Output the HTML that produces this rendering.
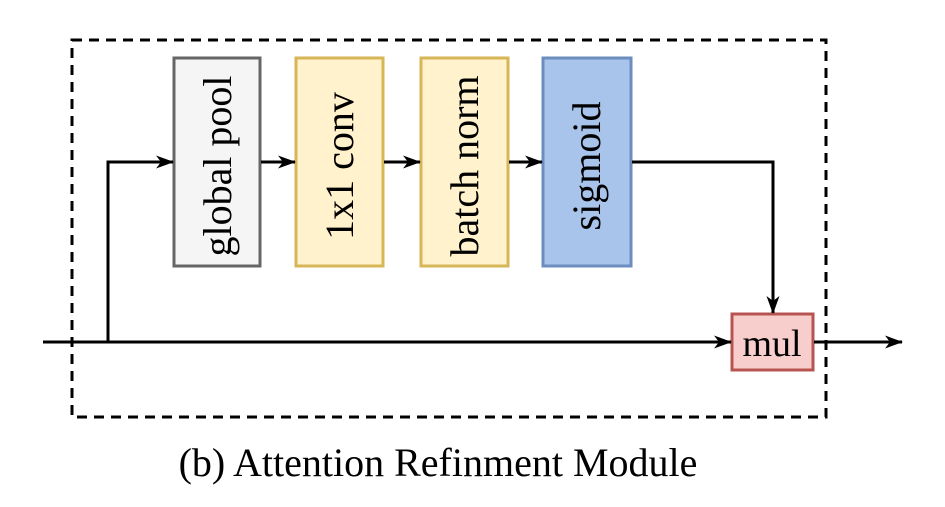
<!DOCTYPE html>
<html><head><meta charset="utf-8"><style>html,body{margin:0;padding:0;background:#fff}</style></head>
<body>
<svg width="945" height="502" viewBox="0 0 945 502" xmlns="http://www.w3.org/2000/svg" style="font-family:'Liberation Serif',serif">
<defs>
<marker id="a" markerWidth="18" markerHeight="14" refX="17" refY="7" orient="auto" markerUnits="userSpaceOnUse" overflow="visible">
<path d="M0,0.5 L18,7 L0,13.5 L5,7 Z" fill="#000"/>
</marker>
</defs>
<rect x="72" y="40" width="754" height="377" fill="none" stroke="#000" stroke-width="3" stroke-dasharray="10,7"/>
<rect x="174" y="58" width="86" height="208" fill="#f5f5f5" stroke="#666" stroke-width="3"/>
<rect x="296" y="58" width="87" height="208" fill="#fff2cc" stroke="#d6b656" stroke-width="3"/>
<rect x="421" y="58" width="87" height="208" fill="#fff2cc" stroke="#d6b656" stroke-width="3"/>
<rect x="543" y="58" width="88" height="208" fill="#a9c4eb" stroke="#6c8ebf" stroke-width="3"/>
<rect x="732" y="314" width="81" height="56" fill="#f8cecc" stroke="#b85450" stroke-width="3"/>
<g font-size="40" text-anchor="middle" fill="#000">
<text transform="translate(231,166) rotate(-90)">global pool</text>
<text transform="translate(353,166) rotate(-90)">1x1 conv</text>
<text transform="translate(478,166) rotate(-90)">batch norm</text>
<text transform="translate(600,166) rotate(-90)">sigmoid</text>
<text x="772" y="356" font-size="38">mul</text>
<text x="438" y="476" font-size="40">(b) Attention Refinment Module</text>
</g>
<g stroke="#000" stroke-width="3" fill="none">
<line x1="43" y1="342" x2="731" y2="342" marker-end="url(#a)"/>
<polyline points="108,342 108,162 173,162" marker-end="url(#a)"/>
<line x1="261" y1="162" x2="295" y2="162" marker-end="url(#a)"/>
<line x1="384" y1="162" x2="420" y2="162" marker-end="url(#a)"/>
<line x1="509" y1="162" x2="542" y2="162" marker-end="url(#a)"/>
<polyline points="632,162 773,162 773,313" marker-end="url(#a)"/>
<line x1="814" y1="342" x2="902" y2="342" marker-end="url(#a)"/>
</g>
</svg>
</body></html>
